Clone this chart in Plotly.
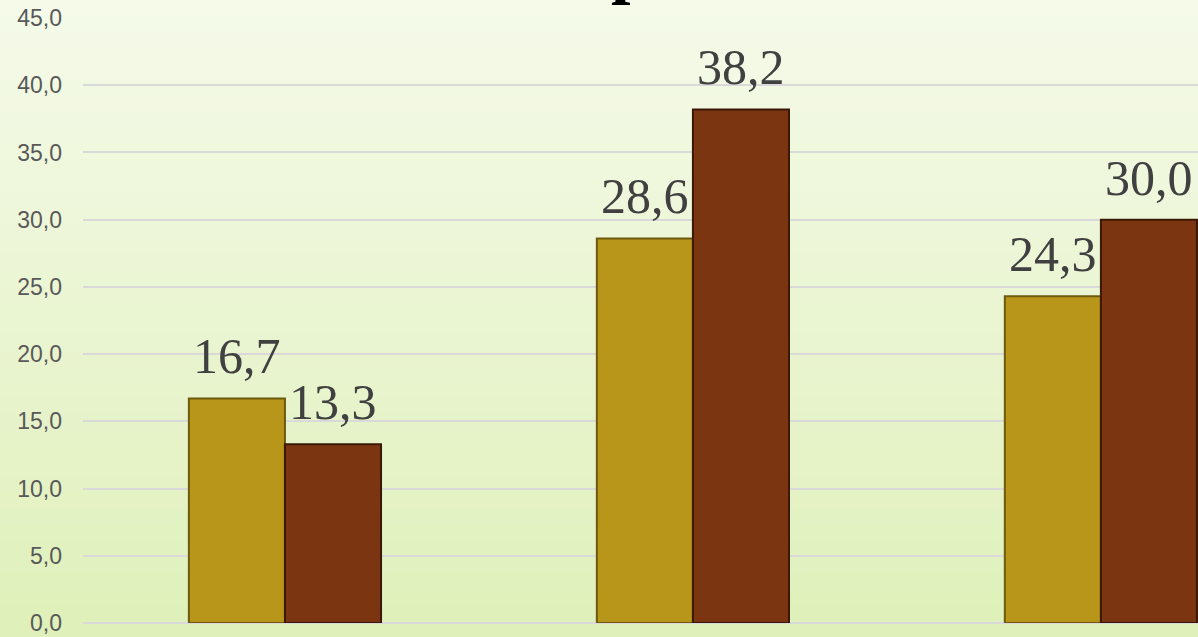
import plotly.graph_objects as go

categories = ["Группа 1", "Группа 2", "Группа 3"]
series_a = [16.7, 28.6, 24.3]
series_b = [13.3, 38.2, 30.0]
series_names = ["Ряд 1", "Ряд 2"]
tick_vals = [0, 5, 10, 15, 20, 25, 30, 35, 40, 45]

gold = "#B8961A"
brown = "#7B3511"

fig = go.Figure()
fig.add_trace(go.Bar(x=categories, y=series_a, name=series_names[0],
                     marker=dict(color=gold, line=dict(color="#6E5A0C", width=2))))
fig.add_trace(go.Bar(x=categories, y=series_b, name=series_names[1],
                     marker=dict(color=brown, line=dict(color="#3A1806", width=2))))

# background gradient
top = (245, 250, 233)
bot = (223, 240, 186)
n = 40
y0p, y1p = -14 / 605, 1 + 18 / 605
for i in range(n):
    t = i / (n - 1)
    c = tuple(int(round(bot[k] + (top[k] - bot[k]) * t)) for k in range(3))
    fig.add_shape(type="rect", xref="paper", yref="paper",
                  x0=-0.1, x1=1.1,
                  y0=y0p + (y1p - y0p) * i / n, y1=y0p + (y1p - y0p) * (i + 1) / n + 0.002,
                  fillcolor="rgb(%d,%d,%d)" % c, line=dict(width=0), layer="below")

group_w = 1 - 0.529
offs = [-group_w / 4, group_w / 4]
for s, vals in enumerate([series_a, series_b]):
    for i, v in enumerate(vals):
        fig.add_annotation(x=i + offs[s], y=v, xref="x", yref="y",
                           text=f"{v:.1f}".replace(".", ","), showarrow=False,
                           yanchor="bottom", xanchor="center", yshift=12,
                           font=dict(family="Liberation Serif", size=50, color="#404040"))

# cropped title glyph
fig.add_annotation(x=(630 - 83) / 1115, y=1 + 11 / 605, xref="paper", yref="paper",
                   text="<b>р</b>", showarrow=False, yanchor="bottom", xanchor="center",
                   font=dict(family="Liberation Serif", size=70, color="#000000"))

fig.update_layout(
    width=1198, height=637,
    margin=dict(l=83, r=0, t=18, b=14),
    barmode="group", bargap=0.529, bargroupgap=0,
    showlegend=False,
    separators=", ",
    paper_bgcolor="#EEF6DA", plot_bgcolor="rgba(0,0,0,0)",
    xaxis=dict(range=[-0.495, 2.238], showticklabels=False, showgrid=False,
               zeroline=False, showline=False, ticks=""),
    yaxis=dict(range=[0, 45], tickvals=tick_vals, tickformat=".1f",
               showgrid=True, gridcolor="#D9D9D9", gridwidth=2,
               zeroline=True, zerolinecolor="#D9D9D9", zerolinewidth=2,
               showline=False, ticks="", ticklabelstandoff=20,
               tickfont=dict(family="Liberation Sans", size=23, color="#595959")),
)

fig.write_html("out.html", config={"displayModeBar": False},
               post_script="document.body.style.margin='0';document.body.style.overflow='hidden';")
